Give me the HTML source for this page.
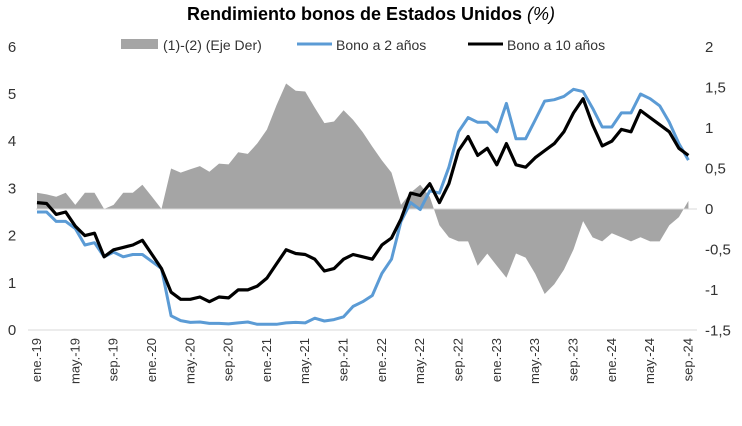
<!DOCTYPE html>
<html><head><meta charset="utf-8"><style>
body{margin:0;background:#fff;font-family:"Liberation Sans",Arial,sans-serif}
svg text{font-family:"Liberation Sans",Arial,sans-serif;fill:#333}
</style></head><body>
<svg id="c" width="742" height="421">
<text x="371" y="20" text-anchor="middle" font-size="18" font-weight="bold" style="fill:#000">Rendimiento bonos de Estados Unidos <tspan font-style="italic" font-weight="normal">(%)</tspan></text>
<g>
<rect x="121" y="39" width="37" height="10" fill="#a5a5a5"/>
<text x="163" y="50" font-size="14">(1)-(2) (Eje Der)</text>
<line x1="297" y1="44" x2="332" y2="44" stroke="#5b9bd5" stroke-width="3"/>
<text x="336" y="50" font-size="14">Bono a 2 años</text>
<line x1="468" y1="44" x2="503" y2="44" stroke="#000" stroke-width="3"/>
<text x="507" y="50" font-size="14">Bono a 10 años</text>
</g>
<g id="plot"></g>
</svg>
<script>
const months=["ene.-19","may.-19","sep.-19","ene.-20","may.-20","sep.-20","ene.-21","may.-21","sep.-21","ene.-22","may.-22","sep.-22","ene.-23","may.-23","sep.-23","ene.-24","may.-24","sep.-24"];
const leftTicks=[0,1,2,3,4,5,6];
const rightTicks=[2,1.5,1,0.5,0,-0.5,-1,-1.5];
const twoY=[2.5,2.5,2.3,2.3,2.15,1.8,1.85,1.55,1.65,1.55,1.6,1.6,1.45,1.3,0.3,0.2,0.16,0.17,0.14,0.14,0.13,0.15,0.17,0.12,0.12,0.12,0.15,0.16,0.15,0.25,0.19,0.22,0.28,0.5,0.6,0.73,1.2,1.5,2.3,2.7,2.55,2.95,2.9,3.45,4.2,4.5,4.4,4.4,4.2,4.8,4.05,4.05,4.45,4.85,4.88,4.95,5.1,5.05,4.7,4.3,4.3,4.6,4.6,5.0,4.9,4.75,4.4,3.95,3.6];
const tenY=[2.7,2.68,2.45,2.5,2.2,2.0,2.05,1.55,1.7,1.75,1.8,1.9,1.6,1.3,0.8,0.65,0.65,0.7,0.6,0.7,0.68,0.85,0.85,0.93,1.1,1.4,1.7,1.62,1.6,1.5,1.25,1.3,1.5,1.6,1.55,1.5,1.8,1.95,2.35,2.9,2.85,3.1,2.7,3.1,3.8,4.1,3.7,3.85,3.5,3.95,3.5,3.45,3.65,3.8,3.95,4.2,4.6,4.9,4.35,3.9,4.0,4.25,4.2,4.65,4.5,4.35,4.2,3.85,3.7];
const NS="http://www.w3.org/2000/svg";
const g=document.getElementById('plot');
const xS=i=>37+i*9.58;
const yL=v=>330-v*47.2;
const yR=v=>209-v*81;
function mk(t,a){const e=document.createElementNS(NS,t);for(const k in a)e.setAttribute(k,a[k]);g.appendChild(e);return e;}
const spread=tenY.map((v,i)=>v-twoY[i]);
let d="M"+xS(0)+","+yR(0);
spread.forEach((v,i)=>{d+=" L"+xS(i).toFixed(1)+","+yR(v).toFixed(1);});
d+=" L"+xS(spread.length-1)+","+yR(0)+" Z";
const area=mk('path',{d:d,fill:'#a5a5a5'});


const zl=mk('line',{x1:36,x2:697,y1:yR(0),y2:yR(0),stroke:'#d9d9d9','stroke-width':1});


const ax=mk('line',{x1:28,x2:697,y1:330,y2:330,stroke:'#d9d9d9','stroke-width':1});


function line(arr,col,w,name){const p=arr.map((v,i)=>(i?"L":"M")+xS(i).toFixed(1)+","+yL(v).toFixed(1)).join(" ");const e=mk('path',{d:p,fill:'none',stroke:col,'stroke-width':w,'stroke-linejoin':'round'});

}
line(twoY,'#5b9bd5',3,'line-2y');
line(tenY,'#000',3.2,'line-10y');
leftTicks.forEach(v=>{const t=mk('text',{x:12,y:yL(v)+5,'font-size':15,'text-anchor':'middle'});t.textContent=v;

});
rightTicks.forEach(v=>{const t=mk('text',{x:705,y:yR(v)+5,'font-size':15});t.textContent=String(v).replace('.',',');

});
months.forEach((m,i)=>{const x=xS(i*4)+4;const t=mk('text',{x:0,y:0,'font-size':13,'text-anchor':'end',transform:`translate(${x},338) rotate(-90)`});t.textContent=m;

});
</script>
</body></html>
